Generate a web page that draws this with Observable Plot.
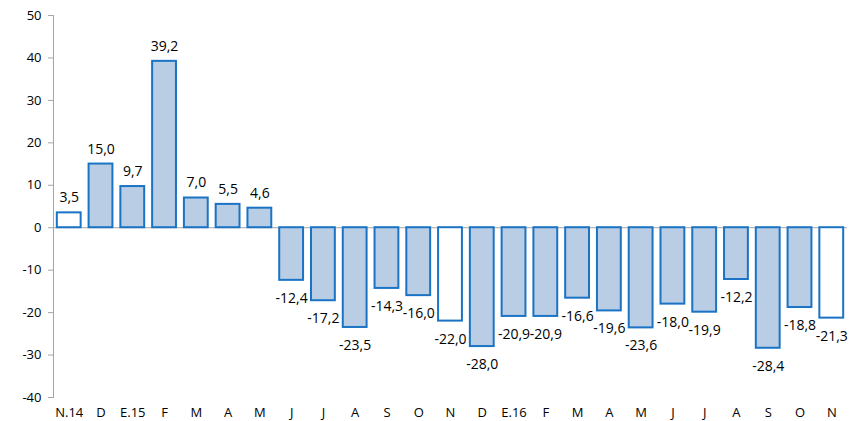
<!DOCTYPE html>
<html>
<head>
<meta charset="utf-8">
<script src="https://cdn.jsdelivr.net/npm/d3@7"></script>
<script src="https://cdn.jsdelivr.net/npm/@observablehq/plot@0.6"></script>
<style>
  html, body { margin: 0; padding: 0; background: #fff; }
  #chart svg { display: block; }
</style>
</head>
<body>
<div id="chart"></div>
<script>
const categories = ["N.14","D","E.15","F","M","A","M","J","J","A","S","O","N","D","E.16","F","M","A","M","J","J","A","S","O","N"];
const values = [3.5,15.0,9.7,39.2,7.0,5.5,4.6,-12.4,-17.2,-23.5,-14.3,-16.0,-22.0,-28.0,-20.9,-20.9,-16.6,-19.6,-23.6,-18.0,-19.9,-12.2,-28.4,-18.8,-21.3];
const highlighted = [true,false,false,false,false,false,false,false,false,false,false,false,true,false,false,false,false,false,false,false,false,false,false,false,true];
const yTicks = [-40,-30,-20,-10,0,10,20,30,40,50];

const data = categories.map((c, i) => ({i, c, v: values[i], white: highlighted[i]}));
const pos = data.filter(d => d.v >= 0);
const neg = data.filter(d => d.v < 0);
const fmt = v => v.toFixed(1).replace(".", ",");
const font = "'Open Sans', sans-serif";

const chart = Plot.plot({
  width: 852,
  height: 421,
  marginLeft: 53,
  marginRight: 5,
  marginTop: 15,
  marginBottom: 24,
  style: {fontFamily: font, fontSize: "13px", color: "#000", background: "#fff"},
  x: {type: "band", domain: d3.range(categories.length), paddingInner: 0.25, paddingOuter: 0.12, round: false, label: null, axis: null},
  y: {domain: [-40, 50], ticks: yTicks, label: null, axis: null},
  marks: [
    Plot.frame({anchor: "left", stroke: "#a6a6a6"}),
    Plot.ruleY([0], {stroke: "#a6a6a6", strokeWidth: 1}),
    Plot.barY(data, {
      x: "i", y: "v",
      fill: d => d.white ? "#ffffff" : "#b9cde5",
      stroke: "#1a73c4", strokeWidth: 2
    }),
    Plot.axisY(yTicks, {
      anchor: "left", tickSize: 5, tickPadding: 7, stroke: "#a6a6a6",
      tickFormat: d => String(d), fontSize: 13, fill: "#000"
    }),
    Plot.axisX(d3.range(categories.length), {
      anchor: "bottom", tickSize: 0, tickPadding: 10,
      tickFormat: i => categories[i], fontSize: 13, fill: "#000"
    }),
    Plot.text(pos, {
      x: "i", y: "v", text: d => fmt(d.v),
      dy: -15, fontSize: 14, fill: "#000"
    }),
    Plot.text(neg, {
      x: "i", y: "v", text: d => fmt(d.v),
      dy: 18, fontSize: 14, fill: "#000"
    })
  ]
});
document.getElementById("chart").appendChild(chart);
</script>
</body>
</html>
